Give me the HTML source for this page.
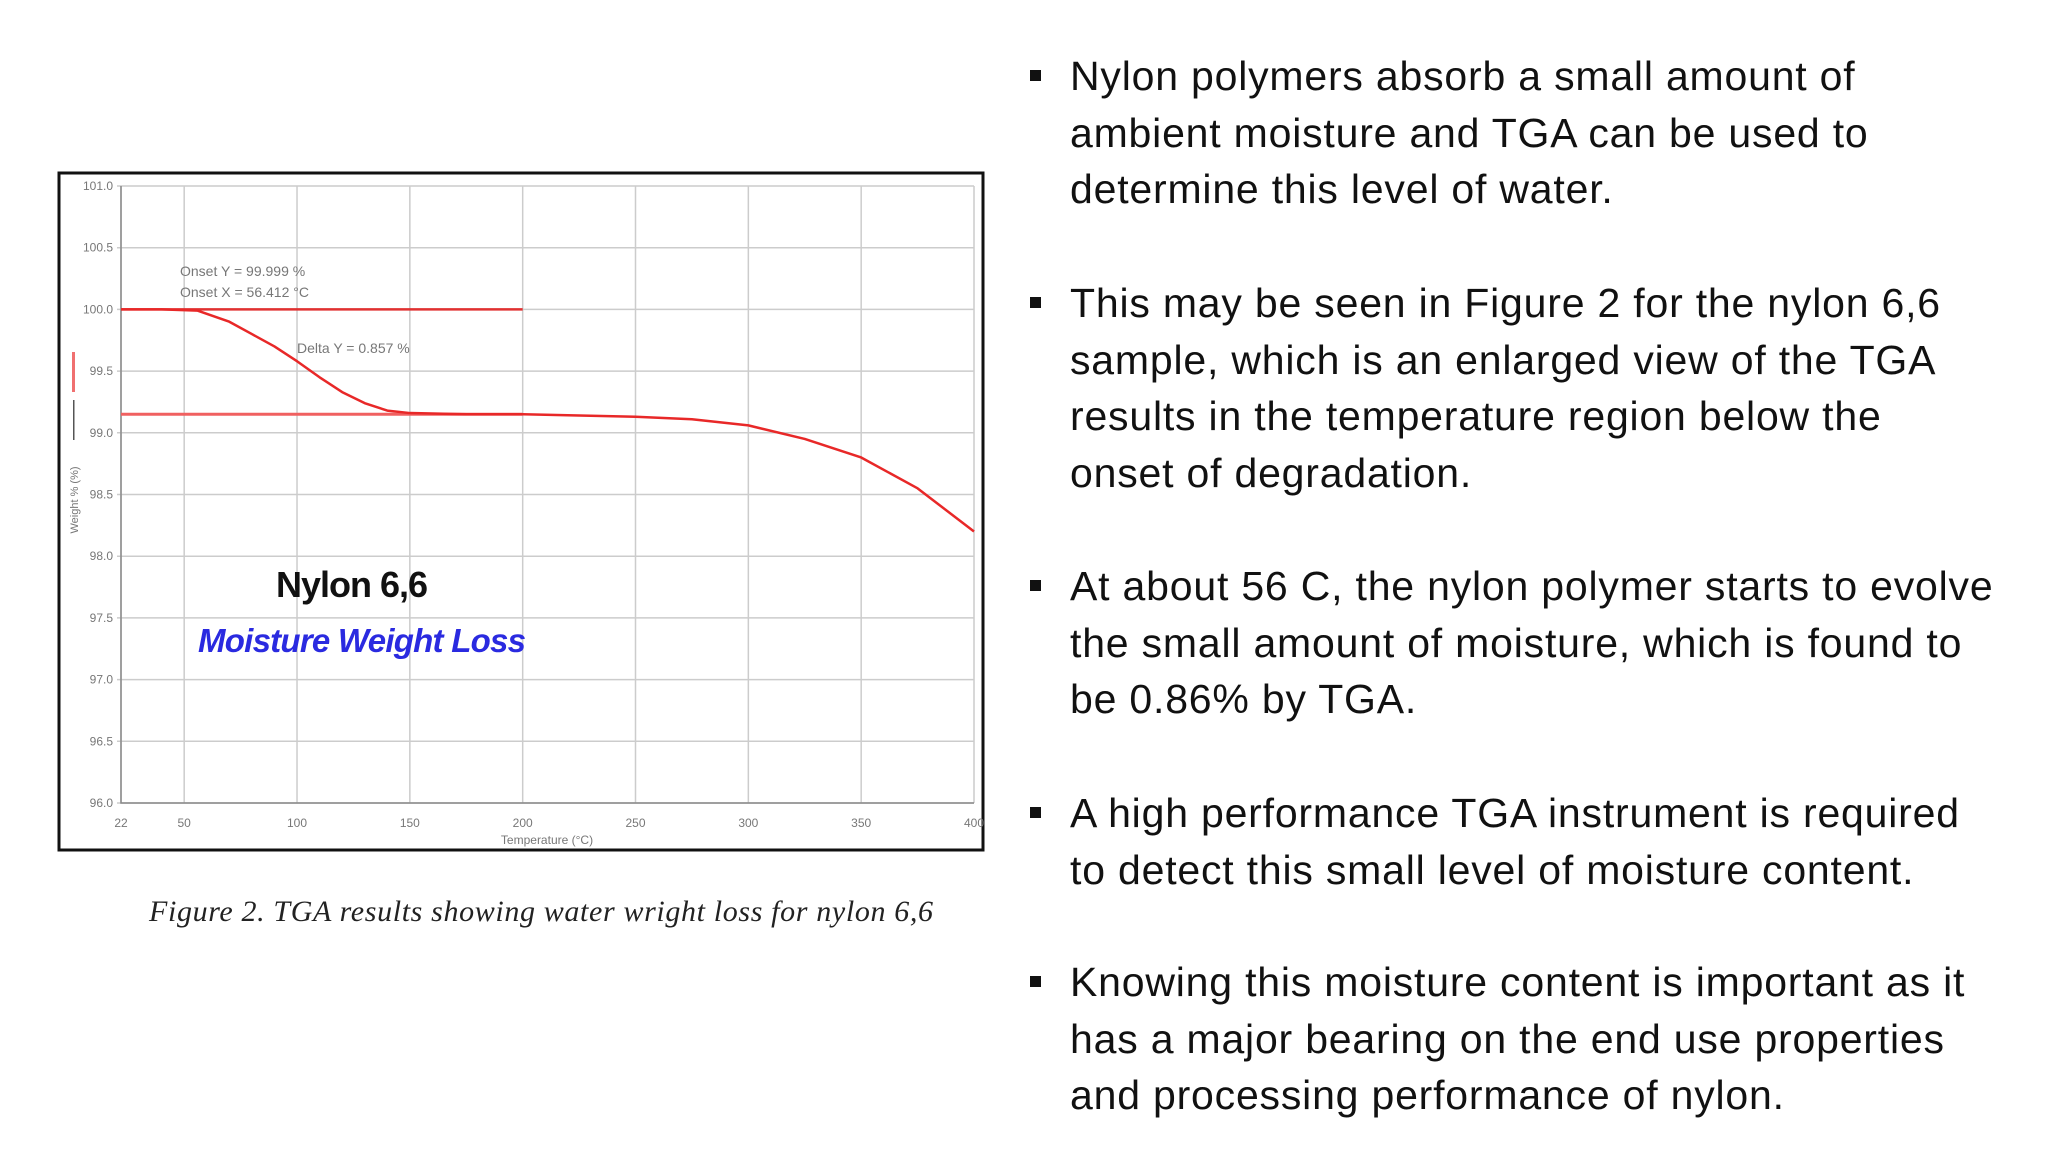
<!DOCTYPE html>
<html><head><meta charset="utf-8"><style>
body{margin:0;width:2048px;height:1152px;background:#fff;overflow:hidden;position:relative;font-family:"Liberation Sans",sans-serif}
.b{position:absolute;left:1070px;font-size:41px;line-height:56.6px;color:#111;width:980px;letter-spacing:0.8px;white-space:nowrap}
.sq{position:absolute;left:1030px;width:11px;height:11px;background:#111}
</style></head><body>
<svg id="chart" width="2048" height="1152" style="position:absolute;left:0;top:0">
<rect x="59" y="173" width="924" height="677" fill="#fff" stroke="#111" stroke-width="3"/>
<g id="grid"></g><g id="ticks"></g><g id="curve"></g>
<text x="180" y="276" font-size="14" fill="#777">Onset Y = 99.999 %</text>
<text x="180" y="297" font-size="14" fill="#777">Onset X = 56.412 °C</text>
<text x="297" y="353" font-size="14" fill="#777">Delta Y = 0.857 %</text>
<text x="276" y="597" font-size="36" font-weight="bold" fill="#111" textLength="152">Nylon 6,6</text>
<text x="198" y="652" font-size="33" font-weight="bold" font-style="italic" fill="#2a2ae0" textLength="328">Moisture Weight Loss</text>
<text x="547" y="844" font-size="12" fill="#777" text-anchor="middle">Temperature (°C)</text>
<text transform="translate(78,500) rotate(-90)" font-size="11" fill="#777" text-anchor="middle">Weight % (%)</text>
<rect x="72" y="352" width="3" height="40" fill="#f07070"/>
<rect x="73" y="400" width="1.5" height="40" fill="#555"/>
<text x="541" y="921" font-size="30" font-style="italic" font-family="Liberation Serif,serif" fill="#222" text-anchor="middle" textLength="784">Figure 2.  TGA results showing water wright loss for nylon 6,6</text>
</svg>
<div class="sq" style="top:70px"></div>
<div class="b" style="top:48px">Nylon polymers absorb a small amount of<br>ambient moisture and TGA can be used to<br>determine this level of water.</div>
<div class="sq" style="top:297px"></div>
<div class="b" style="top:275px">This may be seen in Figure 2 for the nylon 6,6<br>sample, which is an enlarged view of the TGA<br>results in the temperature region below the<br>onset of degradation.</div>
<div class="sq" style="top:580px"></div>
<div class="b" style="top:558px">At about 56 C, the nylon polymer starts to evolve<br>the small amount of moisture, which is found to<br>be 0.86% by TGA.</div>
<div class="sq" style="top:807px"></div>
<div class="b" style="top:785px">A high performance TGA instrument is required<br>to detect this small level of moisture content.</div>
<div class="sq" style="top:976px"></div>
<div class="b" style="top:954px">Knowing this moisture content is important as it<br>has a major bearing on the end use properties<br>and processing performance of nylon.</div>
<script>
const xTicks=[22,50,100,150,200,250,300,350,400];
const yTicks=[101.0,100.5,100.0,99.5,99.0,98.5,98.0,97.5,97.0,96.5,96.0];
const temps=[22,40,56,70,80,90,100,110,120,130,140,150,175,200,250,275,300,325,350,375,400];
const weights=[100.0,100.0,99.99,99.9,99.8,99.7,99.58,99.45,99.33,99.24,99.18,99.16,99.15,99.15,99.13,99.11,99.06,98.95,98.8,98.55,98.2];
const onsetY=100.0, plateauY=99.15, lineEndT=200;
const X0=121,X1=974,Y0=186,Y1=803;
const sx=t=>X0+(t-22)/(400-22)*(X1-X0);
const sy=v=>Y0+(101-v)/(101-96)*(Y1-Y0);
const NS='http://www.w3.org/2000/svg';
function mk(tag,attrs,parent){const e=document.createElementNS(NS,tag);for(const k in attrs)e.setAttribute(k,attrs[k]);document.getElementById(parent).appendChild(e);return e;}
xTicks.forEach(t=>{const l=mk('line',{x1:sx(t),x2:sx(t),y1:Y0,y2:Y1,stroke:'#ccc','stroke-width':1.5},'grid');

const tx=mk('text',{x:sx(t),y:Y1+24,'font-size':12,fill:'#777','text-anchor':'middle'},'ticks');tx.textContent=t;
});
yTicks.forEach(v=>{const l=mk('line',{x1:X0-4,x2:X1,y1:sy(v),y2:sy(v),stroke:'#ccc','stroke-width':1.5},'grid');

const tx=mk('text',{x:X0-8,y:sy(v)+4,'font-size':12,fill:'#777','text-anchor':'end'},'ticks');tx.textContent=v.toFixed(1);
});
const ax=mk('path',{d:`M${X0} ${Y0}V${Y1}H${X1}`,stroke:'#888',fill:'none','stroke-width':1.5},'grid');

const h1=mk('line',{x1:sx(22),x2:sx(lineEndT),y1:sy(onsetY),y2:sy(onsetY),stroke:'#e03030','stroke-width':2.5},'curve');

const h2=mk('line',{x1:sx(22),x2:sx(lineEndT),y1:sy(plateauY),y2:sy(plateauY),stroke:'#f06060','stroke-width':3},'curve');

const p=mk('polyline',{points:temps.map((t,i)=>sx(t)+','+sy(weights[i])).join(' '),fill:'none',stroke:'#e82828','stroke-width':2.5,'stroke-linejoin':'round'},'curve');

</script>
</body></html>
